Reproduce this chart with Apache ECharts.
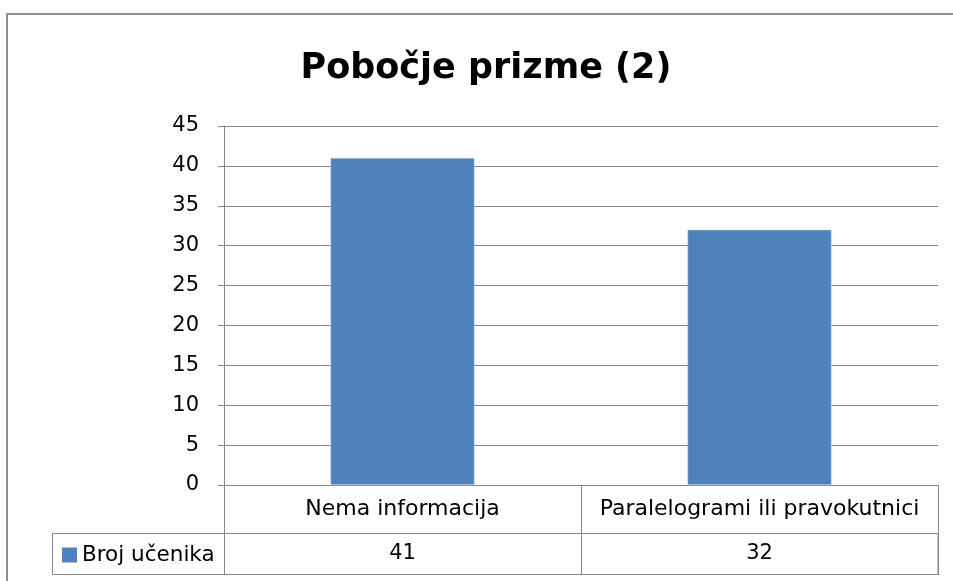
<!DOCTYPE html>
<html>
<head>
<meta charset="utf-8">
<script src="https://cdn.jsdelivr.net/npm/echarts@6/dist/echarts.min.js"></script>
<style>
html,body{margin:0;padding:0;background:#fff;}
#chart{width:953px;height:581px;}
</style>
</head>
<body>
<div id="chart"></div>
<script>
// podaci
var chartTitle = 'Pobočje prizme (2)';
var seriesName = 'Broj učenika';
var categories = ['Nema informacija', 'Paralelogrami ili pravokutnici'];
var values = [41, 32];
var yMin = 0, yMax = 45, yStep = 5;

var gridCol = '#868686';
var fontFam = '"DejaVu Sans", sans-serif';

var myChart = echarts.init(document.getElementById('chart'));
var option = {
    backgroundColor: '#fff',
    animation: false,
    title: {
        text: chartTitle,
        left: 481,
        top: 46,
        textAlign: 'center',
        textStyle: {fontFamily: fontFam, fontSize: 35, fontWeight: 'bold', color: '#000'}
    },
    legend: {
        data: [seriesName],
        left: 57,
        top: 539,
        icon: 'rect',
        itemWidth: 15,
        itemHeight: 15,
        itemGap: 4,
        selectedMode: false,
        itemStyle: {borderWidth: 0},
        textStyle: {fontFamily: fontFam, fontSize: 21.5, color: '#000', padding: [0, 0, 0, 0]}
    },
    grid: {left: 224, right: 15, top: 126, bottom: 96},
    xAxis: [
        {
            type: 'category',
            data: categories,
            position: 'bottom',
            axisLine: {show: true, lineStyle: {color: gridCol, width: 1}},
            axisTick: {show: true, interval: 0, length: 90, lineStyle: {color: gridCol}},
            axisLabel: {interval: 0, fontFamily: fontFam, fontSize: 22, color: '#000', margin: 13}
        },
        {
            type: 'category',
            data: values.map(function (v) { return String(v); }),
            position: 'bottom',
            offset: 48,
            axisLine: {show: true, lineStyle: {color: gridCol, width: 1}},
            axisTick: {show: false},
            axisLabel: {interval: 0, fontFamily: fontFam, fontSize: 21, color: '#000', margin: 10}
        }
    ],
    yAxis: {
        type: 'value',
        min: yMin,
        max: yMax,
        interval: yStep,
        axisLine: {show: true, lineStyle: {color: gridCol}},
        axisTick: {show: true, length: 6, lineStyle: {color: gridCol}},
        splitLine: {show: true, lineStyle: {color: gridCol, width: 1}},
        axisLabel: {fontFamily: fontFam, fontSize: 21, color: '#000', margin: 25}
    },
    graphic: [
        {type: 'rect', shape: {x: 7, y: 14, width: 960, height: 590}, style: {fill: 'none', stroke: '#8e8e8e', lineWidth: 2}, silent: true},
        {type: 'rect', shape: {x: 52.5, y: 533.5, width: 885.5, height: 41}, style: {fill: 'none', stroke: gridCol, lineWidth: 1}, silent: true},
        {type: 'line', shape: {x1: 224.5, y1: 533, x2: 224.5, y2: 575}, style: {stroke: gridCol, lineWidth: 1}, silent: true}
    ],
    series: [
        {
            name: seriesName,
            type: 'bar',
            data: values,
            barWidth: 144,
            itemStyle: {color: '#4F81BD', borderColor: '#D0DDEE', borderWidth: 0.5}
        }
    ]
};
myChart.setOption(option);
</script>
</body>
</html>
